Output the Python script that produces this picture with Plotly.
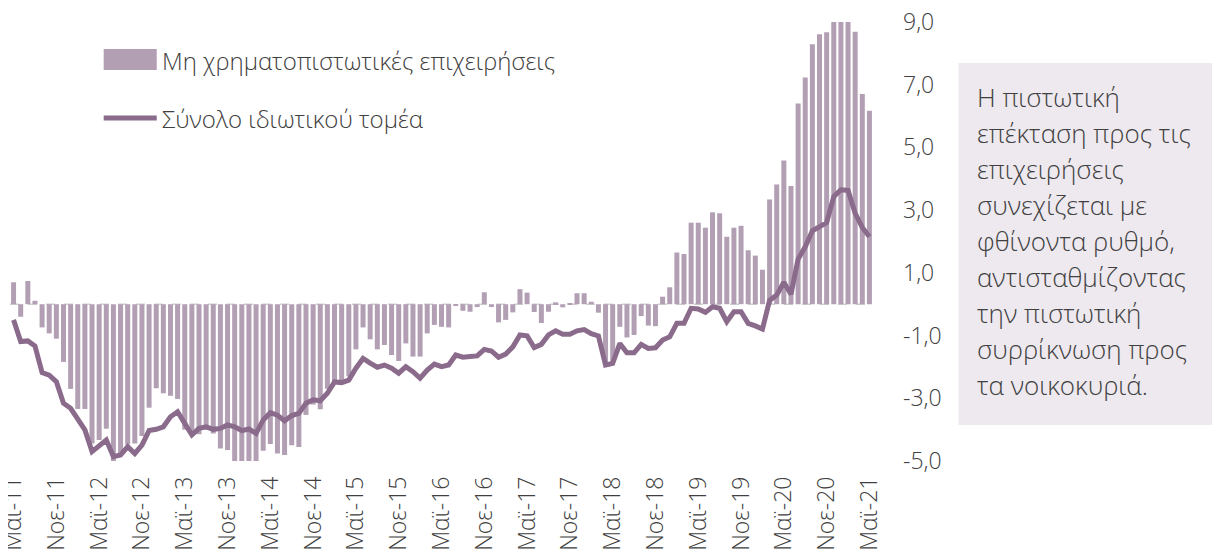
import plotly.graph_objects as go

# ---------------- data ----------------
greek_months = ["Ιαν", "Φεβ", "Μαρ", "Απρ", "Μαϊ", "Ιουν", "Ιουλ", "Αυγ", "Σεπ", "Οκτ", "Νοε", "Δεκ"]
months = []
for k in range(121):
    m = (4 + k) % 12
    y = 11 + (4 + k) // 12
    months.append(f"{greek_months[m]}-{y:02d}")

nfc_values = [
    0.70, -0.40, 0.74, 0.11, -0.74, -0.93, -1.10, -1.84, -2.70, -3.34,
    -3.34, -4.44, -4.33, -3.97, -5.10, -4.83, -4.47, -4.44, -4.20, -3.30,
    -2.68, -2.84, -2.92, -3.02, -4.00, -4.10, -4.15, -4.00, -4.12, -4.60,
    -4.65, -5.10, -5.20, -5.20, -5.10, -4.67, -4.46, -4.76, -4.81, -4.50,
    -4.55, -3.53, -3.20, -3.35, -2.70, -2.50, -2.50, -2.30, -1.44, -0.74,
    -1.12, -1.44, -1.30, -1.62, -1.81, -1.25, -1.67, -1.67, -0.93, -0.66,
    -0.72, -0.74, -0.04, -0.21, -0.24, -0.09, 0.38, -0.09, -0.58, -0.50,
    -0.26, 0.48, 0.37, -0.25, -0.60, -0.24, 0.06, -0.10, 0.03, 0.35,
    0.35, 0.08, -0.27, -1.95, -1.85, -0.72, -1.06, -0.98, -0.38, -0.68,
    -0.70, 0.24, 0.54, 1.65, 1.60, 2.60, 2.60, 2.44, 2.93, 2.90,
    2.15, 2.44, 2.50, 1.72, 1.55, 1.10, 3.34, 3.82, 4.58, 3.77,
    6.40, 7.23, 8.29, 8.61, 8.67, 9.30, 9.50, 9.30, 8.69, 6.70,
    6.17,
]

private_values = [
    -0.50, -1.19, -1.17, -1.33, -2.18, -2.26, -2.47, -3.16, -3.32, -3.69,
    -4.01, -4.70, -4.49, -4.33, -4.86, -4.81, -4.54, -4.76, -4.49, -4.03,
    -3.99, -3.91, -3.59, -3.43, -3.80, -4.17, -3.96, -3.91, -3.99, -3.96,
    -3.85, -3.91, -4.03, -3.98, -4.12, -3.69, -3.46, -3.54, -3.72, -3.55,
    -3.48, -3.16, -3.05, -3.08, -2.84, -2.48, -2.50, -2.42, -2.04, -1.73,
    -1.88, -2.01, -1.94, -2.04, -2.20, -1.99, -2.15, -2.36, -2.10, -1.91,
    -1.99, -1.94, -1.62, -1.69, -1.67, -1.65, -1.44, -1.49, -1.69, -1.59,
    -1.36, -0.98, -1.01, -1.38, -1.28, -0.98, -0.85, -0.96, -0.96, -0.85,
    -0.81, -0.94, -1.01, -1.94, -1.89, -1.25, -1.55, -1.55, -1.28, -1.41,
    -1.39, -1.14, -1.04, -0.61, -0.61, -0.13, -0.15, -0.26, -0.08, -0.13,
    -0.56, -0.24, -0.24, -0.61, -0.69, -0.79, 0.12, 0.29, 0.70, 0.32,
    1.44, 1.83, 2.34, 2.48, 2.60, 3.43, 3.65, 3.63, 2.90, 2.45,
    2.15,
]

tick_labels = months[::6]
y_ticks = [-5, -3, -1, 1, 3, 5, 7, 9]
y_tick_text = ["-5,0", "-3,0", "-1,0", "1,0", "3,0", "5,0", "7,0", "9,0"]

bar_name = "Μη χρηματοπιστωτικές επιχειρήσεις"
line_name = "Σύνολο ιδιωτικού τομέα"
note_lines = [
    "Η πιστωτική",
    "επέκταση προς τις",
    "επιχειρήσεις",
    "συνεχίζεται με",
    "φθίνοντα ρυθμό,",
    "αντισταθμίζοντας",
    "την πιστωτική",
    "συρρίκνωση προς",
    "τα νοικοκυριά.",
]

# ---------------- style ----------------
BAR_COLOR = "#b29fb4"
LINE_COLOR = "#8b6b8b"
TEXT_COLOR = "#404040"
BOX_COLOR = "#ede9ef"
FONT = "Open Sans"

OFF = 8                      # default page margin around the figure
W, H = 1212, 548
L, T = 2.4, 14
R = W - (872.6 - OFF)
B = H - (461 - OFF)
pw = W - L - R
ph = H - T - B


def px_x(x):
    return (x - OFF - L) / pw


def px_y(y):
    return (H - B - (y - OFF)) / ph


fig = go.Figure()
fig.add_trace(go.Bar(
    x=months, y=nfc_values, name=bar_name,
    marker=dict(color=BAR_COLOR, line=dict(width=0)),
    showlegend=False,
))
fig.add_trace(go.Scatter(
    x=months, y=private_values, name=line_name, mode="lines",
    line=dict(color=LINE_COLOR, width=5),
    showlegend=False,
))

shapes = [
    dict(type="line", xref="paper", yref="y", x0=0, x1=1, y0=0, y1=0,
         line=dict(color="#cfcfcf", width=1.5, dash="dash"), layer="below"),
    dict(type="rect", xref="paper", yref="paper",
         x0=px_x(104), x1=px_x(157), y0=px_y(70), y1=px_y(49),
         fillcolor=BAR_COLOR, line=dict(width=0)),
    dict(type="line", xref="paper", yref="paper",
         x0=px_x(104), x1=px_x(157), y0=px_y(118), y1=px_y(118),
         line=dict(color=LINE_COLOR, width=5)),
    dict(type="rect", xref="paper", yref="paper",
         x0=px_x(958), x1=px_x(1230), y0=px_y(425), y1=px_y(63),
         fillcolor=BOX_COLOR, line=dict(width=0), layer="below"),
]

annotations = [
    dict(xref="paper", yref="paper", x=px_x(160), y=px_y(60), text=bar_name,
         showarrow=False, xanchor="left", yanchor="middle",
         font=dict(family=FONT, size=24, color=TEXT_COLOR, weight=300)),
    dict(xref="paper", yref="paper", x=px_x(160), y=px_y(118), text=line_name,
         showarrow=False, xanchor="left", yanchor="middle",
         font=dict(family=FONT, size=24, color=TEXT_COLOR, weight=300)),
]
for i, t in enumerate(note_lines):
    annotations.append(dict(
        xref="paper", yref="paper", x=px_x(975), y=px_y(97 + 36 * i), text=t,
        showarrow=False, xanchor="left", yanchor="middle",
        font=dict(family=FONT, size=26, color=TEXT_COLOR, weight=300)))

fig.update_layout(
    width=W, height=H,
    margin=dict(l=L, r=R, t=T, b=B, pad=0, autoexpand=False),
    paper_bgcolor="white", plot_bgcolor="white",
    bargap=0.3,
    showlegend=False,
    font=dict(family=FONT, color=TEXT_COLOR),
    shapes=shapes,
    annotations=annotations,
    xaxis=dict(
        type="category", range=[-0.5, len(months) - 0.5],
        tickmode="array", tickvals=tick_labels, ticktext=tick_labels,
        tickangle=-90, showgrid=False, showline=False, zeroline=False,
        ticks="", ticklabelstandoff=10, automargin=False,
        ticklabeloverflow="allow",
        tickfont=dict(family=FONT, size=23, color=TEXT_COLOR, weight=300),
    ),
    yaxis=dict(
        side="right", range=[-5, 9],
        tickmode="array", tickvals=y_ticks, ticktext=y_tick_text,
        showgrid=False, showline=False, zeroline=False,
        ticks="", ticklabelstandoff=29, automargin=False,
        ticklabeloverflow="allow",
        tickfont=dict(family=FONT, size=23, color=TEXT_COLOR, weight=300),
    ),
)

fig.write_html("out.html")
